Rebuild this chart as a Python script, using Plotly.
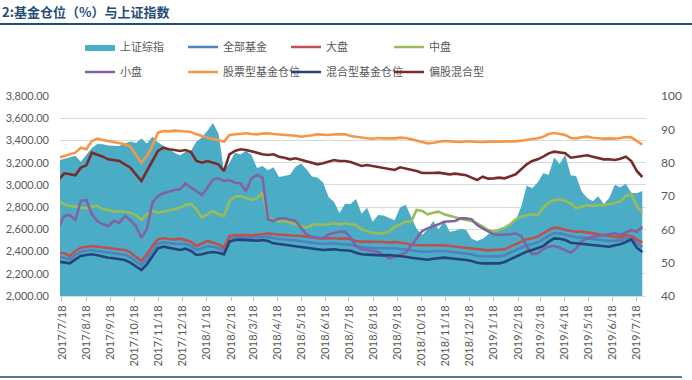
import pandas as pd
import plotly.graph_objects as go

# ---------------- data ----------------
dates = pd.date_range("2017-07-14", periods=107, freq="7D")

sh_index = [
    3222, 3237, 3253, 3262, 3209, 3269, 3332, 3367, 3365, 3354,
    3353, 3349, 3374, 3391, 3378, 3417, 3372, 3433, 3383, 3353,
    3317, 3290, 3267, 3297, 3307, 3391, 3429, 3488, 3558, 3462,
    3129, 3199, 3289, 3273, 3307, 3269, 3152, 3169, 3131, 3159,
    3071, 3082, 3091, 3163, 3193, 3141, 3075, 3067, 3022, 2890,
    2847, 2747, 2831, 2829, 2874, 2740, 2795, 2669, 2730, 2725,
    2703, 2682, 2797, 2821, 2716, 2606, 2550, 2599, 2676, 2599,
    2680, 2579, 2588, 2606, 2594, 2516, 2494, 2515, 2554, 2596,
    2601, 2619, 2653, 2682, 2804, 2994, 2969, 3022, 3104, 3091,
    3247, 3189, 3271, 3086, 3078, 2939, 2882, 2853, 2898, 2827,
    2882, 3001, 2979, 3011, 2930, 2924, 2944,
]

all_funds = [
    51.8, 51.5, 51.0, 52.3, 53.3, 53.6, 53.8, 53.5, 53.3, 53.1,
    52.9, 52.6, 52.4, 51.6, 50.5, 49.2, 51.1, 53.6, 55.7, 56.1,
    55.8, 55.7, 55.6, 55.6, 55.0, 53.8, 54.3, 54.9, 54.8, 54.4,
    53.6, 57.2, 57.6, 57.7, 57.6, 57.5, 57.5, 57.7, 57.8, 57.3,
    57.1, 57.0, 56.8, 56.7, 56.4, 56.2, 55.9, 55.7, 55.6, 55.7,
    55.8, 55.6, 55.6, 55.4, 54.9, 54.6, 54.5, 54.4, 54.4, 54.3,
    54.2, 54.3, 54.1, 53.9, 53.6, 53.5, 53.3, 53.3, 53.5, 53.5,
    53.5, 53.3, 53.1, 52.9, 52.7, 52.5, 52.0, 51.9, 51.8, 51.9,
    51.9, 52.2, 53.0, 53.8, 54.5, 55.2, 55.6, 56.1, 57.0, 58.1,
    58.9, 58.8, 58.4, 57.9, 57.6, 57.5, 57.3, 57.1, 56.9, 56.7,
    56.5, 56.6, 56.6, 57.3, 57.6, 56.0, 54.6,
]

large_cap = [
    53.0, 52.8, 52.0, 53.5, 54.5, 54.8, 55.0, 54.8, 54.6, 54.5,
    54.3, 54.0, 53.8, 53.0, 51.8, 50.5, 52.5, 55.0, 57.0, 57.3,
    57.1, 57.0, 57.2, 56.8, 56.3, 55.0, 55.8, 56.5, 56.0, 55.5,
    54.5, 58.0, 58.3, 58.4, 58.3, 58.2, 58.3, 58.5, 58.8, 58.5,
    58.4, 58.3, 58.2, 58.3, 58.0, 57.8, 57.5, 57.3, 57.2, 57.3,
    57.4, 57.2, 57.3, 57.0, 56.5, 56.3, 56.3, 56.2, 56.3, 56.2,
    56.0, 56.2, 56.0, 55.8, 55.3, 55.3, 55.2, 55.3, 55.4, 55.3,
    55.2, 55.0, 54.8, 54.6, 54.5, 54.3, 53.9, 53.8, 53.7, 53.8,
    53.8, 54.0, 54.8, 55.5, 56.3, 57.0, 57.3, 57.8, 58.8, 59.8,
    60.5, 60.3, 59.8, 59.5, 59.3, 59.3, 59.0, 58.8, 58.5, 58.3,
    58.0, 57.8, 57.5, 58.2, 58.0, 57.0, 56.0,
]

mid_cap = [
    68.3, 67.5, 67.0, 66.8, 66.5, 66.3, 66.8, 67.0, 66.0, 65.8,
    65.3, 65.5, 65.2, 65.0, 64.3, 62.8, 64.5, 65.5, 65.0, 65.3,
    65.6, 66.0, 66.5, 67.3, 67.6, 66.0, 63.5, 64.5, 65.5, 64.5,
    64.0, 68.5, 69.8, 70.0, 69.5, 68.8, 69.3, 71.0, 63.5, 63.0,
    62.3, 62.5, 62.0, 61.5, 61.0, 60.5, 61.3, 61.5, 61.3, 61.5,
    61.8, 61.5, 61.8, 61.5, 61.3, 60.0, 59.5, 59.0, 58.8, 58.9,
    59.3, 60.8, 61.5, 62.3, 62.3, 65.8, 65.5, 64.5, 65.0, 65.3,
    64.5, 64.0, 63.5, 63.2, 62.8, 62.5, 61.8, 60.8, 59.8, 59.3,
    59.8, 60.5, 61.5, 63.0, 63.8, 64.3, 64.5, 64.3, 66.5, 68.0,
    68.8, 69.0, 68.5, 67.8, 66.3, 66.8, 67.3, 67.0, 67.3, 67.2,
    67.5, 67.8, 68.3, 70.0, 70.5, 67.0, 65.0,
]

small_cap = [
    60.8, 64.0, 64.3, 62.8, 68.5, 68.8, 64.5, 62.5, 61.5, 61.0,
    62.5, 62.0, 64.0, 62.8, 61.0, 57.5, 60.0, 68.0, 70.0, 70.8,
    71.3, 71.8, 72.0, 73.8, 72.5, 71.5, 70.3, 72.5, 75.0, 75.3,
    74.5, 74.8, 74.0, 73.8, 71.5, 75.3, 76.3, 75.5, 63.0, 62.5,
    63.3, 63.3, 63.0, 62.5, 60.5, 58.5, 57.8, 57.5, 57.3, 58.5,
    59.0, 59.3, 59.3, 57.5, 55.0, 54.0, 53.8, 53.5, 53.3, 52.3,
    51.3, 51.8, 52.3, 53.0, 55.0, 57.3, 59.5, 60.3, 60.8, 61.5,
    62.3, 62.3, 62.5, 63.3, 63.3, 63.0, 61.3, 60.3, 59.3, 58.5,
    58.3, 58.3, 58.5, 58.8, 58.0, 55.0, 52.5, 52.8, 54.0, 54.8,
    55.0, 54.5, 53.8, 53.0, 54.3, 56.5, 57.3, 57.8, 58.0, 58.3,
    58.5, 58.8, 58.3, 59.0, 59.8, 59.3, 60.8,
]

stock_funds = [
    81.5, 82.0, 82.5, 83.0, 84.5, 84.0, 86.5, 87.2, 86.8, 86.5,
    86.2, 85.8, 85.5, 84.8, 82.5, 80.0, 82.0, 85.0, 89.0, 89.5,
    89.4, 89.6, 89.5, 89.3, 89.2, 88.5, 88.0, 87.5, 87.0, 86.8,
    86.3, 88.3, 88.5, 88.6, 88.8, 88.6, 88.5, 88.7, 88.8, 88.6,
    88.5, 88.3, 88.4, 88.1, 87.8, 87.9, 88.2, 88.5, 88.4, 88.3,
    88.5, 88.6, 88.5, 88.0, 87.7, 87.4, 87.3, 87.2, 87.4, 87.3,
    87.2, 87.3, 87.5, 87.4, 87.0, 86.6, 86.3, 85.8, 86.0, 86.2,
    86.5, 86.4, 86.3, 86.2, 86.4, 86.3, 86.1, 86.2, 86.3, 86.2,
    86.3, 86.4, 86.3, 86.4, 86.6, 86.8, 87.0, 87.3, 87.8, 88.6,
    88.9, 88.7, 88.3, 87.4, 87.3, 87.6, 87.8, 87.5, 87.3, 87.2,
    87.3, 87.2, 87.4, 87.7, 87.6, 86.4, 85.4,
]

hybrid_funds = [
    50.3, 50.0, 49.8, 51.0, 52.0, 52.3, 52.5, 52.2, 51.8, 51.5,
    51.3, 51.0, 50.8, 50.0, 49.0, 47.8, 49.5, 52.0, 54.3, 54.8,
    54.5, 54.2, 53.8, 54.2, 53.5, 52.3, 52.5, 53.0, 53.2, 53.0,
    52.5, 56.3, 56.8, 56.9, 56.8, 56.7, 56.6, 56.8, 56.5, 55.8,
    55.6, 55.4, 55.2, 55.0, 54.7, 54.4, 54.2, 54.0, 53.8, 53.9,
    54.0, 53.8, 53.8, 53.6, 53.0, 52.5, 52.4, 52.3, 52.3, 52.2,
    52.3, 52.2, 52.0, 51.8, 51.5, 51.3, 51.0, 50.9, 51.2, 51.3,
    51.5, 51.3, 51.2, 51.0, 50.8, 50.5, 50.0, 49.8, 49.7, 49.8,
    49.8, 50.2, 51.0, 51.8, 52.5, 53.3, 53.8, 54.3, 55.0, 56.3,
    57.3, 57.2, 56.8, 56.0, 55.8, 55.7, 55.6, 55.3, 55.2, 55.0,
    54.8, 55.2, 55.5, 56.2, 57.0, 54.5, 53.2,
]

equity_hybrid = [
    75.0, 76.8, 76.5, 76.2, 78.5, 79.2, 83.0, 82.5, 81.8, 81.0,
    80.8, 80.5, 79.5, 78.5, 76.5, 74.5, 77.5, 80.5, 83.5, 84.5,
    84.0, 83.8, 83.5, 83.8, 83.2, 80.5, 80.0, 80.5, 80.0, 79.5,
    77.5, 82.5, 83.5, 84.0, 83.8, 83.5, 83.0, 82.5, 82.3, 82.5,
    81.8, 81.5, 81.0, 81.3, 80.8, 80.5, 80.0, 79.5, 79.8, 80.3,
    80.8, 80.5, 80.5, 80.2, 79.6, 79.0, 79.3, 79.0, 78.6, 78.3,
    78.0, 77.8, 78.6, 78.3, 77.8, 77.5, 76.9, 76.8, 76.9, 77.0,
    76.8, 76.5, 76.7, 76.5, 76.2, 75.5, 74.8, 75.8, 75.2, 75.3,
    75.5, 75.3, 76.0, 76.5, 78.0, 79.5, 80.5, 81.0, 81.8, 82.8,
    83.3, 83.0, 82.8, 81.5, 81.8, 82.0, 82.2, 81.8, 81.5, 81.0,
    81.0, 80.8, 81.2, 81.8, 80.5, 77.5, 75.7,
]

tick_dates = ["2017-07-18", "2017-08-18", "2017-09-18", "2017-10-18", "2017-11-18",
              "2017-12-18", "2018-01-18", "2018-02-18", "2018-03-18", "2018-04-18",
              "2018-05-18", "2018-06-18", "2018-07-18", "2018-08-18", "2018-09-18",
              "2018-10-18", "2018-11-18", "2018-12-18", "2019-01-18", "2019-02-18",
              "2019-03-18", "2019-04-18", "2019-05-18", "2019-06-18", "2019-07-18"]
tick_text = ["2017/7/18", "2017/8/18", "2017/9/18", "2017/10/18", "2017/11/18",
             "2017/12/18", "2018/1/18", "2018/2/18", "2018/3/18", "2018/4/18",
             "2018/5/18", "2018/6/18", "2018/7/18", "2018/8/18", "2018/9/18",
             "2018/10/18", "2018/11/18", "2018/12/18", "2019/1/18", "2019/2/18",
             "2019/3/18", "2019/4/18", "2019/5/18", "2019/6/18", "2019/7/18"]

left_ticks = [2000, 2200, 2400, 2600, 2800, 3000, 3200, 3400, 3600, 3800]
right_ticks = [40, 50, 60, 70, 80, 90, 100]

# ---------------- figure ----------------
W, H = 692, 380
L, R, T, B = 60, 46, 96, 84
pw, ph = W - L - R, H - T - B


def px_x(x):
    return (x - L) / pw


def px_y(y):
    return (T + ph - y) / ph


CJK = "Noto Sans CJK SC"
GRAY = "#595959"

fig = go.Figure()

fig.add_trace(go.Scatter(
    x=dates, y=sh_index, name="上证综指", mode="lines",
    fill="tozeroy", fillcolor="#4BACC6", line=dict(width=0, color="#4BACC6"),
    yaxis="y", legend="legend", legendwidth=58,
))

line_series = [
    ("全部基金", all_funds, "#4F81BD", "legend"),
    ("大盘", large_cap, "#C0504D", "legend"),
    ("中盘", mid_cap, "#9BBB59", "legend"),
    ("小盘", small_cap, "#8064A2", "legend2"),
    ("股票型基金仓位", stock_funds, "#F79646", "legend2"),
    ("混合型基金仓位", hybrid_funds, "#264478", "legend2"),
    ("偏股混合型", equity_hybrid, "#772C2A", "legend2"),
]
for name, vals, color, lg in line_series:
    fig.add_trace(go.Scatter(
        x=dates, y=vals, name=name, mode="lines",
        line=dict(color=color, width=2.6),
        yaxis="y2", legend=lg, legendwidth=58,
    ))

legend_common = dict(
    orientation="h", xref="container", yref="container",
    xanchor="left", yanchor="middle",
    font=dict(family=CJK, size=11, color=GRAY),
    bgcolor="rgba(0,0,0,0)", entrywidthmode="pixels", entrywidth=58,
    itemclick=False,
)

fig.update_layout(
    width=W, height=H, template="none",
    margin=dict(l=L, r=R, t=T, b=B, pad=0, autoexpand=False),
    paper_bgcolor="white", plot_bgcolor="white",
    showlegend=True, hovermode=False,
    legend=dict(x=80 / W, y=1 - 47 / H, **legend_common),
    legend2=dict(x=80 / W, y=1 - 72 / H, **legend_common),
    title=dict(
        text="<b>2:基金仓位（%）与上证指数</b>",
        x=2 / W, xref="container", xanchor="left",
        y=1 - 12 / H, yref="container", yanchor="middle",
        font=dict(family=CJK, size=13, color="#1F4E79"),
    ),
    xaxis=dict(
        type="date", range=["2017-07-15 12:00", "2019-07-30 17:00"],
        tickmode="array", tickvals=tick_dates, ticktext=tick_text,
        tickangle=-90, tickfont=dict(family="Lato", size=11, color=GRAY),
        ticks="outside", ticklen=4, tickcolor="#BFBFBF",
        showgrid=False, showline=True, linecolor="#D9D9D9", zeroline=False,
        automargin=False,
    ),
    yaxis=dict(
        range=[2000, 3800], tickmode="array", tickvals=left_ticks,
        tickformat=",.2f", tickfont=dict(family="Lato", size=11, color=GRAY),
        showgrid=True, gridcolor="#D9D9D9", gridwidth=1,
        zeroline=False, showline=False, ticks="", automargin=False,
        ticklabelstandoff=10,
    ),
    yaxis2=dict(
        range=[40, 100], tickmode="array", tickvals=right_ticks,
        overlaying="y", side="right",
        tickfont=dict(family="Lato", size=12, color=GRAY),
        showgrid=False, zeroline=False, showline=False, ticks="",
        ticklabelstandoff=14, automargin=False,
    ),
    shapes=[
        dict(type="line", xref="paper", yref="paper",
             x0=px_x(0), x1=px_x(W), y0=px_y(24), y1=px_y(24),
             line=dict(color="#1F4E79", width=2)),
        dict(type="line", xref="paper", yref="paper",
             x0=px_x(0), x1=px_x(682), y0=px_y(377), y1=px_y(377),
             line=dict(color="#1F4E79", width=1.5)),
    ],
)

fig.write_html(
    "out.html",
    config={"displayModeBar": False, "staticPlot": True},
    post_script="document.body.style.margin='0';document.body.style.padding='0';"
                "document.documentElement.style.overflow='hidden';",
)
